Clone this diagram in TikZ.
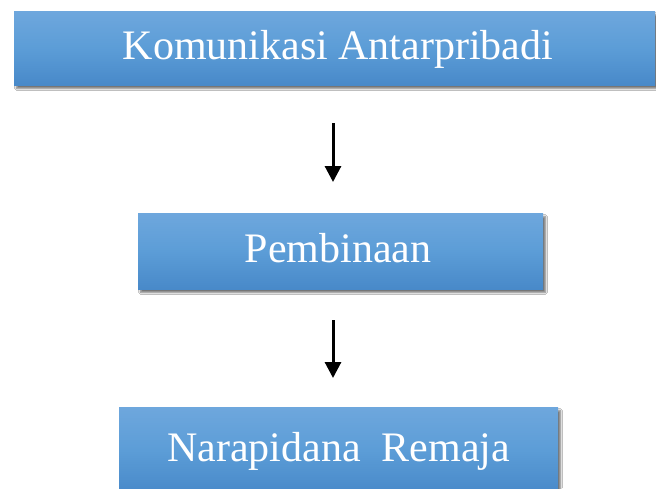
\documentclass[tikz,border=0pt]{standalone}
\usepackage{fontspec}
\setmainfont{Liberation Serif}
\usetikzlibrary{shadows.blur,arrows.meta}
\definecolor{btop}{RGB}{110,167,221}
\definecolor{bmid}{RGB}{92,157,215}
\definecolor{bbot}{RGB}{72,137,201}
\tikzset{
  box/.style={rectangle, inner sep=0pt, top color=btop, bottom color=bbot, middle color=bmid,
    blur shadow={shadow xshift=2.5pt, shadow yshift=-3.5pt, shadow blur steps=6, shadow blur extra rounding=0pt, shadow opacity=55}},
  lbl/.style={anchor=base, text=white, inner sep=0pt, font=\fontsize{42}{50}\selectfont},
  arr/.style={line width=3pt, -{Triangle[width=16pt,length=16pt]}}
}
\begin{document}
\begin{tikzpicture}[x=1pt,y=-1pt]
\useasboundingbox[fill=white] (0,0) rectangle (656,488);
\node[box, minimum width=641pt, minimum height=74pt] (k) at (334.5,48) {};
\node[box, minimum width=405pt, minimum height=76pt] (p) at (340.5,251) {};
\node[box, minimum width=439pt, minimum height=86pt] (n) at (338.5,450) {};
\node[lbl] (kt) at (338,59) {Komunikasi Antarpribadi};
\node[lbl] (pt) at (338,262) {Pembinaan};
\node[lbl] (nt) at (338.5,461) {Narapidana\ \ Remaja};
\coordinate (a1) at (333,123);
\coordinate (a2) at (333,182);
\coordinate (b1) at (333,320);
\coordinate (b2) at (333,378);
\draw[arr] (a1) -- (a2);
\draw[arr] (b1) -- (b2);
\end{tikzpicture}
\end{document}
